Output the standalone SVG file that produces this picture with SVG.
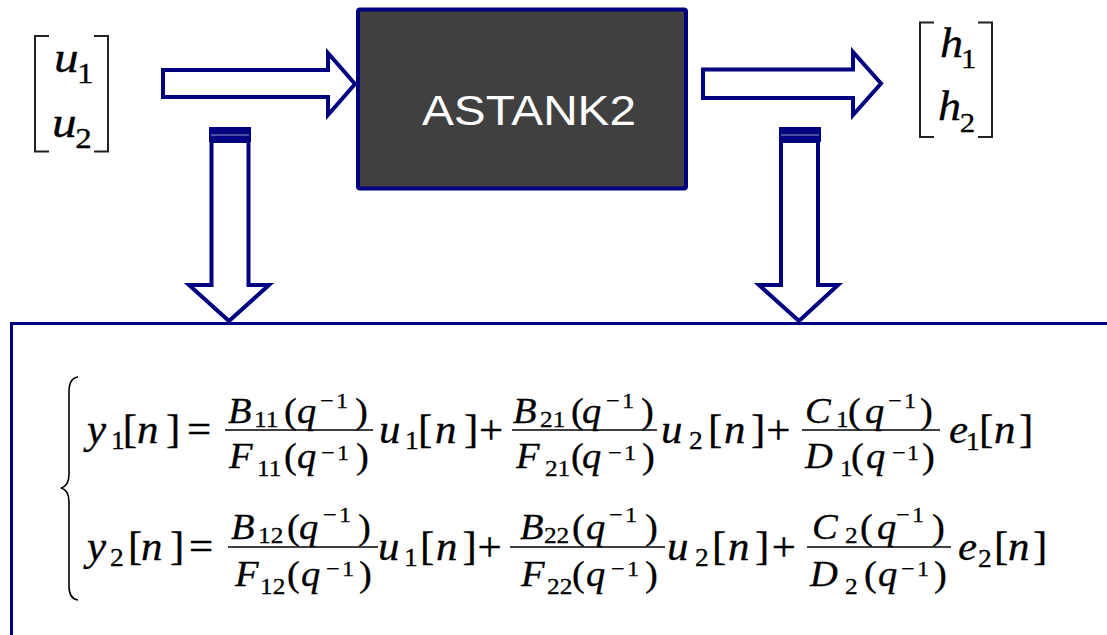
<svg xmlns="http://www.w3.org/2000/svg" width="1107" height="635" viewBox="0 0 1107 635">
<style>
.arrow{fill:#ffffff;stroke:#000080;stroke-width:4;stroke-linejoin:miter}
.cap{fill:#000080}
.capline{stroke:#9a9ad0;stroke-width:1}
.frame{stroke:#000080;stroke-width:3;fill:none}
.brk{stroke:#222;stroke-width:2;fill:none}
.t{fill:#000;stroke:#000;stroke-width:0.3}
.i{font-style:italic}
.m{font-size:39px}
.f{font-size:35px}
.ms{font-size:25px}
.fs{font-size:23px}
.sp{font-size:22px}
.fl{stroke:#000;stroke-width:1.6}
</style>

<g id="connectors">
  <polygon class="arrow" points="163,70 328,70 328,53 355,84 328,115 328,97 163,97"/>
  <polygon class="arrow" points="703,69.5 853,69.5 853,52 881,83.5 853,115 853,98 703,98"/>
  <polygon class="arrow" points="211.5,141 211.5,285 189,285 229,321 269,285 248.5,285 248.5,141"/>
  <rect class="cap" x="209" y="127" width="42" height="15"/>
  <line class="capline" x1="211" y1="135" x2="249" y2="135"/>
  <polygon class="arrow" points="781,141 781,285 759,285 799,321 838,285 818,285 818,141"/>
  <rect class="cap" x="779" y="127" width="42" height="15"/>
  <line class="capline" x1="781" y1="135" x2="819" y2="135"/>
</g>

<g id="node-astank2">
  <rect x="358" y="9.5" width="328" height="179" rx="2" fill="#404040" stroke="#000080" stroke-width="4"/>
  <text x="422" y="125" font-family="'Liberation Sans',Arial,sans-serif" font-size="42" fill="#ffffff" textLength="214" lengthAdjust="spacingAndGlyphs">ASTANK2</text>
</g>

<g id="node-input">
  <path class="brk" d="M49,36 L35,36 L35,151.5 L49,151.5"/>
  <path class="brk" d="M94,36 L108,36 L108,151.5 L94,151.5"/>
  <text class="t" font-family="'Liberation Serif','DejaVu Serif',serif" transform="scale(1.1,1)"><tspan class="i" font-size="45" x="49.09" y="72">u</tspan><tspan font-size="30" x="70" y="83">1</tspan><tspan class="i" font-size="45" x="47.27" y="137">u</tspan><tspan font-size="30" x="68.5" y="148">2</tspan></text>
</g>

<g id="node-output">
  <path class="brk" d="M934,22.5 L920,22.5 L920,137 L934,137"/>
  <path class="brk" d="M978,22.5 L992,22.5 L992,137 L978,137"/>
  <text class="t" font-family="'Liberation Serif','DejaVu Serif',serif" transform="scale(1.1,1)"><tspan class="i" font-size="42" x="854.55" y="57">h</tspan><tspan font-size="28" x="873.64" y="68">1</tspan><tspan class="i" font-size="42" x="852.73" y="120">h</tspan><tspan font-size="28" x="872.5" y="132">2</tspan></text>
</g>

<g id="node-model" font-family="'Liberation Serif','DejaVu Serif',serif">
  <line class="frame" x1="10" y1="323.5" x2="1107" y2="323.5"/>
  <line class="frame" x1="11.5" y1="322" x2="11.5" y2="635"/>
  <path d="M78,377 Q69,378 69,392 L69,474 Q69,486 61,488 Q69,490 69,502 L69,586 Q69,599 78,600" fill="none" stroke="#000" stroke-width="1.6"/>

  <!-- row 1 -->
  <line class="fl" x1="225" y1="430" x2="373" y2="430"/>
  <line class="fl" x1="512" y1="430" x2="657" y2="430"/>
  <line class="fl" x1="802" y1="430" x2="940" y2="430"/>
  <text class="t m" transform="scale(1.1,1)"><tspan class="i" x="79.09" y="443">y</tspan><tspan class="ms" x="100.91" y="449">1</tspan><tspan x="111.5" y="443">[</tspan><tspan class="i" x="124.55">n</tspan><tspan x="150.91">]</tspan><tspan x="170">=</tspan><tspan class="i" x="344.55">u</tspan><tspan class="ms" x="368.18" y="449">1</tspan><tspan x="380" y="443">[</tspan><tspan class="i" x="395.45">n</tspan><tspan x="421.8">]</tspan><tspan x="435.5">+</tspan><tspan class="i" x="600.91">u</tspan><tspan class="ms" x="626.36" y="449">2</tspan><tspan x="643.64" y="443">[</tspan><tspan class="i" x="658.18">n</tspan><tspan x="682.73">]</tspan><tspan x="696.5">+</tspan><tspan class="i" x="862.73">e</tspan><tspan class="ms" x="878.18" y="450">1</tspan><tspan x="890" y="443">[</tspan><tspan class="i" x="903.64">n</tspan><tspan x="926.36">]</tspan></text>
  <text class="t f" transform="scale(1.1,1)"><tspan class="i" x="207.27" y="423">B</tspan><tspan class="fs" x="230.91" y="427">11</tspan><tspan x="258.18" y="423">(</tspan><tspan class="i" x="270">q</tspan><tspan class="sp" x="290.91" y="408">−</tspan><tspan class="sp" x="305.45" y="408">1</tspan><tspan x="322.73" y="423">)</tspan><tspan class="i" x="466.36" y="423">B</tspan><tspan class="fs" x="490.91" y="427">21</tspan><tspan x="519.09" y="423">(</tspan><tspan class="i" x="529.09">q</tspan><tspan class="sp" x="550.91" y="408">−</tspan><tspan class="sp" x="565.45" y="408">1</tspan><tspan x="582.73" y="423">)</tspan><tspan class="i" x="731.82" y="423">C</tspan><tspan class="fs" x="760" y="427">1</tspan><tspan x="770.91" y="423">(</tspan><tspan class="i" x="786.36">q</tspan><tspan class="sp" x="807.27" y="408">−</tspan><tspan class="sp" x="821.82" y="408">1</tspan><tspan x="836.36" y="423">)</tspan></text>
  <text class="t f" transform="scale(1.1,1)"><tspan class="i" x="208.18" y="468">F</tspan><tspan class="fs" x="233.64" y="476">11</tspan><tspan x="258.18" y="468">(</tspan><tspan class="i" x="270">q</tspan><tspan class="sp" x="291.82" y="460">−</tspan><tspan class="sp" x="306.36" y="460">1</tspan><tspan x="323.64" y="468">)</tspan><tspan class="i" x="469.09" y="468">F</tspan><tspan class="fs" x="495.45" y="476">21</tspan><tspan x="519.09" y="468">(</tspan><tspan class="i" x="529.09">q</tspan><tspan class="sp" x="552.73" y="460">−</tspan><tspan class="sp" x="567.27" y="460">1</tspan><tspan x="583.64" y="468">)</tspan><tspan class="i" x="731.82" y="468">D</tspan><tspan class="fs" x="763.64" y="476">1</tspan><tspan x="773.64" y="468">(</tspan><tspan class="i" x="787.27">q</tspan><tspan class="sp" x="810.91" y="460">−</tspan><tspan class="sp" x="824.55" y="460">1</tspan><tspan x="838.18" y="468">)</tspan></text>

  <!-- row 2 -->
  <line class="fl" x1="228" y1="547" x2="378" y2="547"/>
  <line class="fl" x1="510" y1="547" x2="665" y2="547"/>
  <line class="fl" x1="807" y1="547" x2="951" y2="547"/>
  <text class="t m" transform="scale(1.1,1)"><tspan class="i" x="79.09" y="560">y</tspan><tspan class="ms" x="100" y="566">2</tspan><tspan x="116.36" y="560">[</tspan><tspan class="i" x="128.18">n</tspan><tspan x="154.55">]</tspan><tspan x="171.82">=</tspan><tspan class="i" x="343.64">u</tspan><tspan class="ms" x="367.27" y="566">1</tspan><tspan x="381.82" y="560">[</tspan><tspan class="i" x="396.36">n</tspan><tspan x="420.5">]</tspan><tspan x="434">+</tspan><tspan class="i" x="606.36">u</tspan><tspan class="ms" x="631.82" y="566">2</tspan><tspan x="647.27" y="560">[</tspan><tspan class="i" x="661.82">n</tspan><tspan x="686.36">]</tspan><tspan x="701.5">+</tspan><tspan class="i" x="870.91">e</tspan><tspan class="ms" x="889.09" y="567">2</tspan><tspan x="903.64" y="560">[</tspan><tspan class="i" x="916.36">n</tspan><tspan x="939.09">]</tspan></text>
  <text class="t f" transform="scale(1.1,1)"><tspan class="i" x="210" y="539">B</tspan><tspan class="fs" x="234.55" y="543">12</tspan><tspan x="260.91" y="539">(</tspan><tspan class="i" x="271.82">q</tspan><tspan class="sp" x="293.64" y="522">−</tspan><tspan class="sp" x="308.18" y="522">1</tspan><tspan x="325.45" y="539">)</tspan><tspan class="i" x="472.73" y="539">B</tspan><tspan class="fs" x="494.5" y="543">22</tspan><tspan x="520" y="539">(</tspan><tspan class="i" x="532.73">q</tspan><tspan class="sp" x="553.64" y="522">−</tspan><tspan class="sp" x="568.18" y="522">1</tspan><tspan x="586.36" y="539">)</tspan><tspan class="i" x="738.18" y="539">C</tspan><tspan class="fs" x="768.18" y="543">2</tspan><tspan x="781.82" y="539">(</tspan><tspan class="i" x="797.27">q</tspan><tspan class="sp" x="814.55" y="522">−</tspan><tspan class="sp" x="829.09" y="522">1</tspan><tspan x="847.27" y="539">)</tspan></text>
  <text class="t f" transform="scale(1.1,1)"><tspan class="i" x="213.64" y="586">F</tspan><tspan class="fs" x="236.36" y="594">12</tspan><tspan x="260.91" y="586">(</tspan><tspan class="i" x="273.64">q</tspan><tspan class="sp" x="296.36" y="576">−</tspan><tspan class="sp" x="310.91" y="576">1</tspan><tspan x="326.36" y="586">)</tspan><tspan class="i" x="473.64" y="586">F</tspan><tspan class="fs" x="497.27" y="594">22</tspan><tspan x="520" y="586">(</tspan><tspan class="i" x="532.73">q</tspan><tspan class="sp" x="555.45" y="576">−</tspan><tspan class="sp" x="570" y="576">1</tspan><tspan x="586.36" y="586">)</tspan><tspan class="i" x="736.36" y="586">D</tspan><tspan class="fs" x="768.18" y="594">2</tspan><tspan x="785.45" y="586">(</tspan><tspan class="i" x="798.18">q</tspan><tspan class="sp" x="819.09" y="576">−</tspan><tspan class="sp" x="833.64" y="576">1</tspan><tspan x="849.09" y="586">)</tspan></text>
</g>
</svg>
